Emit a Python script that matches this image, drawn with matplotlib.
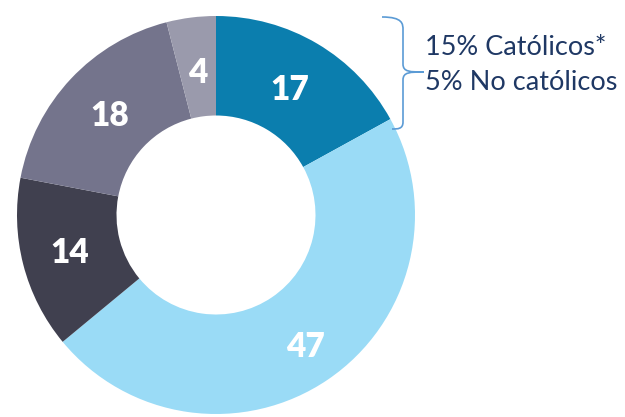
import matplotlib
matplotlib.use("Agg")
import matplotlib.pyplot as plt
from matplotlib.path import Path
from matplotlib.patches import PathPatch
import numpy as np

values = [17, 47, 14, 18, 4]
colors = ['#0b7eae', '#9adbf6', '#40404f', '#74748c', '#9a9aac']
label_radius = [0.73, 0.80, 0.76, 0.73, 0.72]
notes = ['15% Católicos*', '5% No católicos']

W, H = 625, 417
fig = plt.figure(figsize=(W / 100, H / 100), dpi=100)

# donut, centre (216, 215) px, radius 199 px
cx, cy, r = 216, 215, 199
ax = fig.add_axes([(cx - r) / W, (H - cy - r) / H, 2 * r / W, 2 * r / H])
wedges, _ = ax.pie(values, colors=colors, startangle=90, counterclock=False,
                   radius=1, wedgeprops=dict(width=0.5, edgecolor='none'))
ax.set_xlim(-1, 1)
ax.set_ylim(-1, 1)
ax.set_aspect('equal')
ax.axis('off')

for w, v, rr in zip(wedges, values, label_radius):
    ang = np.deg2rad((w.theta1 + w.theta2) / 2)
    ax.text(rr * np.cos(ang), rr * np.sin(ang), str(v), ha='center', va='center',
            color='white', fontsize=24, fontweight='heavy', family='Lato')

# overlay in pixel coords for brace and notes
ov = fig.add_axes([0, 0, 1, 1])
ov.set_xlim(0, W)
ov.set_ylim(H, 0)
ov.axis('off')

verts = [(382, 17), (403, 17), (403, 24), (403, 30),
         (403, 64),
         (403, 72), (410, 72), (424, 72),
         (410, 72), (403, 72), (403, 80),
         (403, 122),
         (403, 129), (398, 129), (392, 129)]
codes = [Path.MOVETO, Path.CURVE4, Path.CURVE4, Path.CURVE4,
         Path.LINETO,
         Path.CURVE4, Path.CURVE4, Path.CURVE4,
         Path.CURVE4, Path.CURVE4, Path.CURVE4,
         Path.LINETO,
         Path.CURVE4, Path.CURVE4, Path.CURVE4]
ov.add_patch(PathPatch(Path(verts, codes), facecolor='none',
                       edgecolor='#5b9bd5', lw=1.2))

ov.text(425, 47, notes[0], ha='left', va='center', fontsize=19.5,
        color='#1f3864', family='Lato')
ov.text(425, 82, notes[1], ha='left', va='center', fontsize=19.5,
        color='#1f3864', family='Lato')

fig.savefig('out.png', dpi=100)
